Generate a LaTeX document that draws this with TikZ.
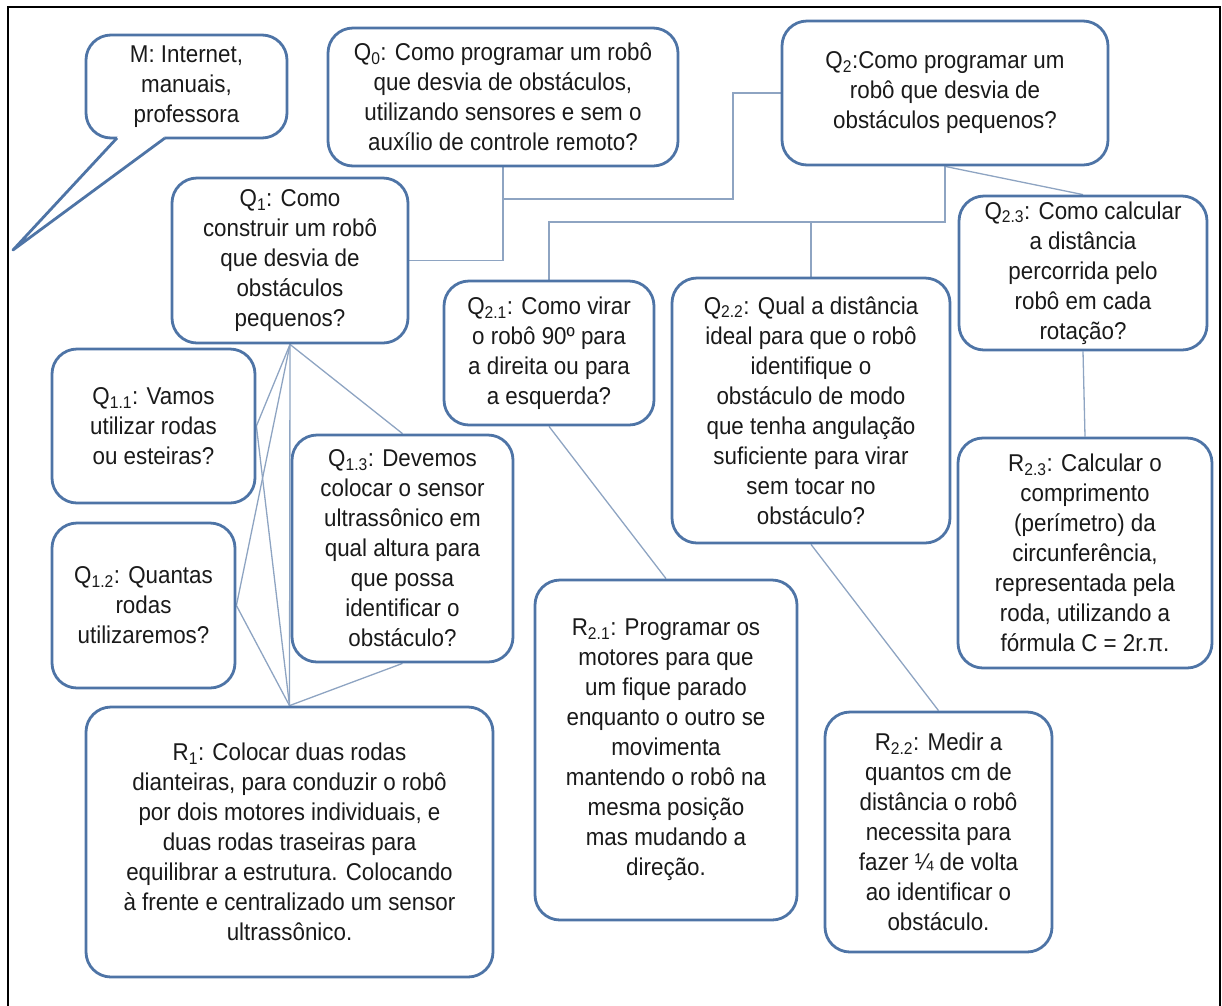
\documentclass[tikz,border=0pt]{standalone}
\usepackage{fontspec}
\setmainfont[FakeStretch=0.92]{Liberation Sans}
\usetikzlibrary{backgrounds}
\definecolor{boxblue}{HTML}{4E74A6}
\definecolor{connblue}{HTML}{8EA4C2}
\definecolor{txt}{HTML}{1A1A1A}
\begin{document}
\begin{tikzpicture}[x=1pt,y=-1pt,
  box/.style={draw=boxblue, line width=2.8pt, fill=white, rounded corners=25pt,
    align=center, inner sep=0pt, text=txt, font=\fontsize{24.3}{30}\selectfont},
  conn/.style={draw=connblue, line width=1.3pt},
  frame/.style={draw=black, line width=2.6pt}]
\useasboundingbox (0,0) rectangle (1222,1005);
\draw[frame] (8,1006) -- (8,7) -- (1220,7) -- (1220,1006);

% boxes
\node[box, minimum width=201pt, minimum height=103pt] (M) at (186.5,86.5)
  {M: Internet,\\manuais,\\professora};
\node[box, minimum width=350pt, minimum height=138pt] (Q0) at (503,97)
  {Q\textsubscript{0}: Como programar um robô\\que desvia de obstáculos,\\utilizando sensores e sem o\\auxílio de controle remoto?};
\node[box, minimum width=326pt, minimum height=144pt] (Q2) at (945,93)
  {Q\textsubscript{2}:Como programar um\\robô que desvia de\\obstáculos pequenos?};
\node[box, minimum width=236pt, minimum height=165pt] (Q1) at (290,260.5)
  {Q\textsubscript{1}: Como\\construir um robô\\que desvia de\\obstáculos\\pequenos?};
\node[box, minimum width=248pt, minimum height=154pt] (Q23) at (1083,273)
  {Q\textsubscript{2.3}: Como calcular\\a distância\\percorrida pelo\\robô em cada\\rotação?};
\node[box, minimum width=210pt, minimum height=144pt] (Q21) at (549,353)
  {Q\textsubscript{2.1}: Como virar\\o robô 90º para\\a direita ou para\\a esquerda?};
\node[box, minimum width=278pt, minimum height=265pt] (Q22) at (811,410.5)
  {Q\textsubscript{2.2}: Qual a distância\\ideal para que o robô\\identifique o\\obstáculo de modo\\que tenha angulação\\suficiente para virar\\sem tocar no\\obstáculo?};
\node[box, minimum width=203pt, minimum height=154pt] (Q11) at (153.5,426)
  {Q\textsubscript{1.1}: Vamos\\utilizar rodas\\ou esteiras?};
\node[box, minimum width=183pt, minimum height=165pt] (Q12) at (143.5,605.5)
  {Q\textsubscript{1.2}: Quantas\\rodas\\utilizaremos?};
\node[box, minimum width=221pt, minimum height=227pt] (Q13) at (402.5,548.5)
  {Q\textsubscript{1.3}: Devemos\\colocar o sensor\\ultrassônico em\\qual altura para\\que possa\\identificar o\\obstáculo?};
\node[box, minimum width=254pt, minimum height=230pt] (R23) at (1085,553)
  {R\textsubscript{2.3}: Calcular o\\comprimento\\(perímetro) da\\circunferência,\\representada pela\\roda, utilizando a\\fórmula C = 2r.π.};
\node[box, minimum width=262pt, minimum height=340pt] (R21) at (666,750)
  {R\textsubscript{2.1}: Programar os\\motores para que\\um fique parado\\enquanto o outro se\\movimenta\\mantendo o robô na\\mesma posição\\mas mudando a\\direção.};
\node[box, minimum width=227pt, minimum height=240pt] (R22) at (938.5,832)
  {R\textsubscript{2.2}: Medir a\\quantos cm de\\distância o robô\\necessita para\\fazer ¼ de volta\\ao identificar o\\obstáculo.};
\node[box, minimum width=407pt, minimum height=270pt] (R1) at (289.5,842)
  {R\textsubscript{1}: Colocar duas rodas\\dianteiras, para conduzir o robô\\por dois motores individuais, e\\duas rodas traseiras para\\equilibrar a estrutura. Colocando\\à frente e centralizado um sensor\\ultrassônico.};

% callout tail of M
\coordinate (tailL) at (117,138);
\coordinate (tailR) at (165,138);
\coordinate (tip) at (13,250);
\fill[white] (119,133) -- (163,133) -- (tailR) -- (tip) -- (tailL) -- cycle;
\draw[boxblue, line width=2.8pt, line join=round] (tailL) -- (tip) -- (tailR);

% connectors
\coordinate (j1) at (733,199);
\coordinate (j2) at (549,222);
\begin{scope}[on background layer]
\draw[conn] (Q0.south) |- (j1) |- (Q2.west);
\draw[conn] (Q0.south) |- (Q1.east);
\draw[conn] (Q2.south) |- (j2) -- (Q21.north);
\draw[conn] (Q22.north |- j2) -- (Q22.north);
\draw[conn] (Q2.south) -- (Q23.north);
\draw[conn] (Q23.south) -- (R23.north);
\draw[conn] (Q21.south) -- (R21.north);
\draw[conn] (Q22.south) -- (R22.north);
\draw[conn] (Q1.south) -- (Q11.east);
\draw[conn] (Q1.south) -- (Q12.east);
\draw[conn] (Q1.south) -- (R1.north);
\draw[conn] (Q1.south) -- (Q13.north);
\draw[conn] (Q11.east) -- (R1.north);
\draw[conn] (Q12.east) -- (R1.north);
\draw[conn] (Q13.south) -- (R1.north);
\end{scope}
\end{tikzpicture}
\end{document}
